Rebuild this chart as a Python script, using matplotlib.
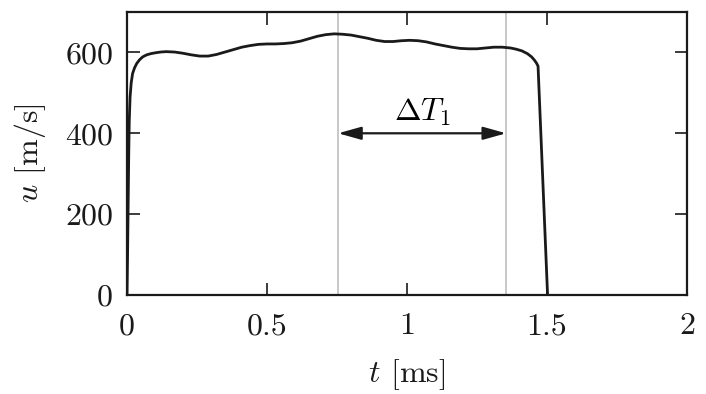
import matplotlib
matplotlib.use("Agg")
import matplotlib.pyplot as plt

plt.rcParams['font.family'] = 'serif'
plt.rcParams['font.serif'] = ['cmr10']
plt.rcParams['mathtext.fontset'] = 'cm'
plt.rcParams['axes.formatter.use_mathtext'] = True
plt.rcParams['axes.unicode_minus'] = False

# data
t = [0, 0.002, 0.004, 0.006, 0.008, 0.011, 0.015, 0.02, 0.027, 0.035, 0.045,
     0.056, 0.07, 0.085, 0.1, 0.12, 0.14, 0.17, 0.2, 0.23, 0.26, 0.29, 0.32,
     0.35, 0.38, 0.41, 0.44, 0.47, 0.5, 0.53, 0.56, 0.59, 0.62, 0.65, 0.68,
     0.71, 0.74, 0.77, 0.8, 0.83, 0.86, 0.89, 0.92, 0.95, 0.98, 1.01, 1.04,
     1.07, 1.1, 1.13, 1.16, 1.19, 1.22, 1.25, 1.28, 1.31, 1.34, 1.37, 1.39,
     1.41, 1.43, 1.445, 1.455, 1.463, 1.468, 1.502]
u = [0, 100, 220, 340, 430, 490, 525, 548, 562, 573, 582,
     589, 594, 597, 599, 601, 602, 601, 598, 594, 591, 591, 595,
     601, 607, 613, 617, 620, 621, 621, 622, 624, 628, 634, 640,
     644, 646, 645, 643, 639, 635, 630, 627, 627, 629, 630, 629,
     626, 621, 617, 613, 610, 609, 609, 611, 613, 613, 611, 608,
     604, 597, 589, 581, 573, 566, 0]
marker_t = [0.754, 1.354]
arrow_u = 400
xticks = [0, 0.5, 1, 1.5, 2]
xticklabels = ['0', '0.5', '1', '1.5', '2']
yticks = [0, 200, 400, 600]

fig = plt.figure(figsize=(7.06, 3.94), dpi=100)
ax = fig.add_axes([0.1799, 0.2513, 0.7932, 0.7182])

for mt in marker_t:
    ax.axvline(mt, color='#c8c8c8', lw=1.4, zorder=1)
ax.plot(t, u, color='#1a1a1a', lw=2.0, zorder=3, solid_joinstyle='round')

ax.annotate('', xy=(marker_t[0], arrow_u), xytext=(marker_t[1], arrow_u),
            arrowprops=dict(arrowstyle='<|-|>,head_length=1.0,head_width=0.28',
                            color='#1a1a1a', lw=1.6,
                            mutation_scale=14, shrinkA=0, shrinkB=0))
ax.text(sum(marker_t) / 2, arrow_u + 12, r'$\Delta T_1$', ha='center',
        va='bottom', fontsize=23)

ax.set_xlim(0, 2)
ax.set_ylim(0, 700)
ax.set_xticks(xticks)
ax.set_xticklabels(xticklabels)
ax.set_yticks(yticks)
ax.tick_params(direction='in', top=True, right=True, length=9, width=1.2,
               labelsize=23, color='#1a1a1a', labelcolor='#1a1a1a')
ax.tick_params(axis='x', pad=13)
ax.tick_params(axis='y', pad=10)
for s in ax.spines.values():
    s.set_linewidth(1.6)
    s.set_color('#1a1a1a')

ax.set_xlabel(r'$t$ [ms]', fontsize=23, labelpad=12, color='#1a1a1a')
ax.set_ylabel(r'$u$ [m/s]', fontsize=23, labelpad=12, color='#1a1a1a')

fig.savefig('out.png', dpi=100)
